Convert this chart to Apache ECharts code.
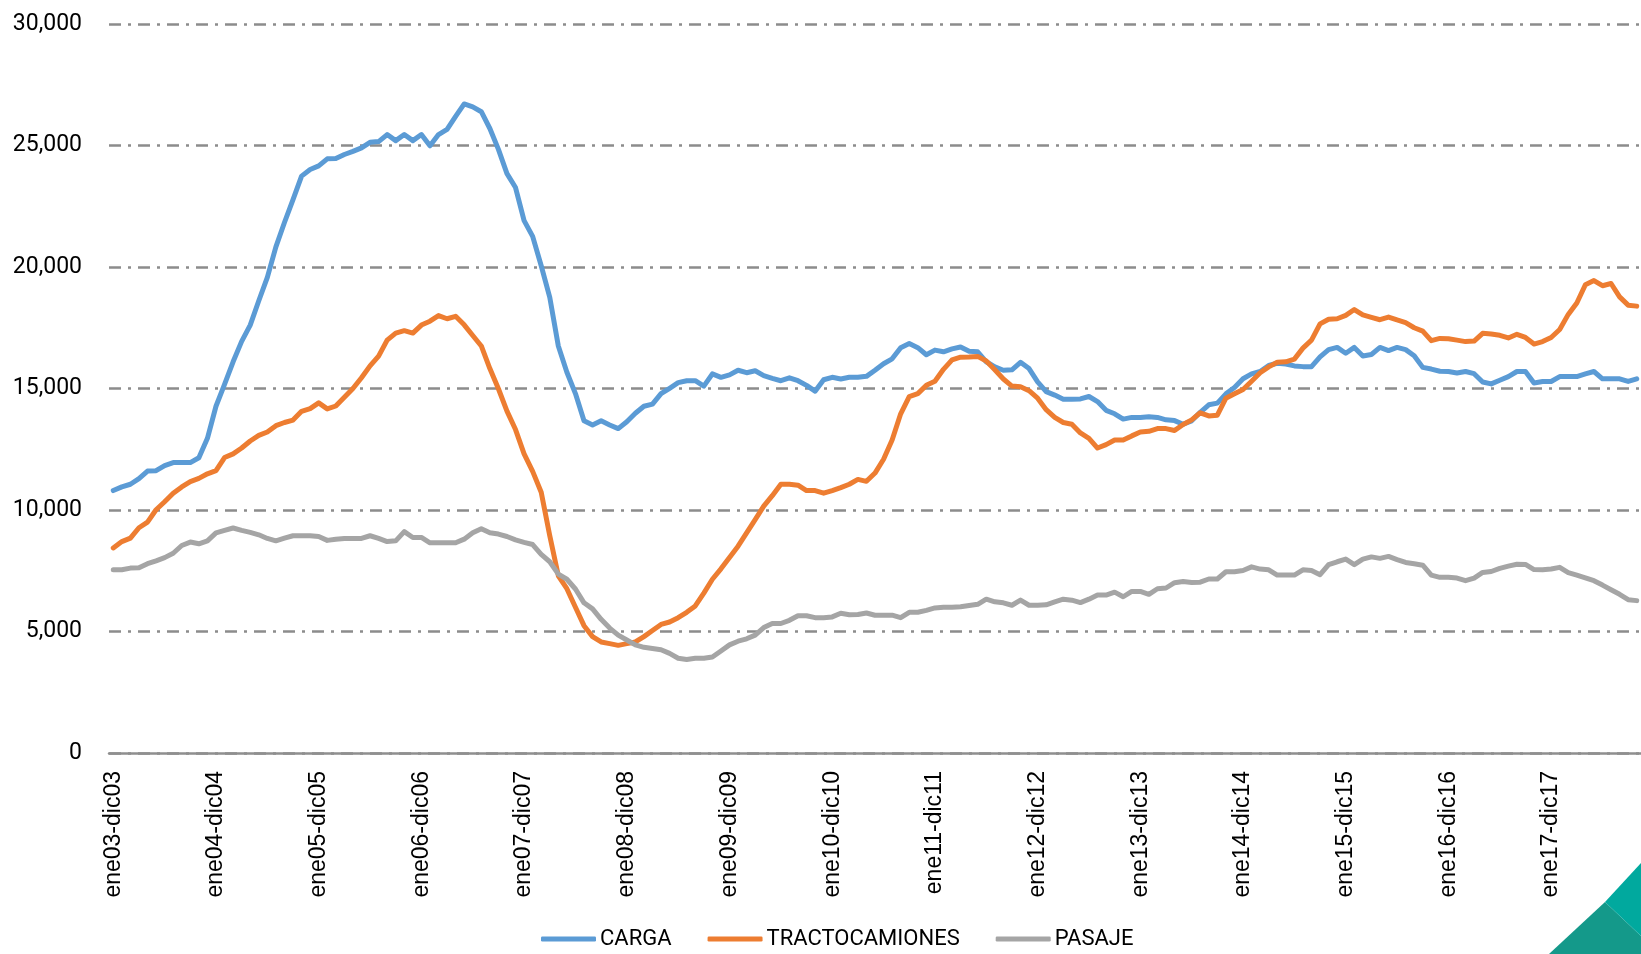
<!DOCTYPE html>
<html>
<head>
<meta charset="utf-8">
<script src="https://cdn.jsdelivr.net/npm/echarts@6/dist/echarts.min.js"></script>
<style>
  html, body { margin: 0; padding: 0; background: #fff; }
  #chart { width: 1641px; height: 954px; }
</style>
</head>
<body>
<div id="chart"></div>
<script>
// periodos moviles de 12 meses: ene03-dic03, feb03-ene04, ...
const meses = ['ene', 'feb', 'mar', 'abr', 'may', 'jun', 'jul', 'ago', 'sep', 'oct', 'nov', 'dic']
const anioInicial = 3
const numPeriodos = 179

const carga = [
  10800, 10950, 11060, 11290, 11600, 11620, 11830, 11950, 11950, 11950,
  12150, 12950, 14270, 15170, 16100, 16940, 17610, 18610, 19570, 20830,
  21830, 22770, 23740, 24010, 24160, 24450, 24460, 24630, 24760, 24900,
  25130, 25160, 25450, 25200, 25450, 25200, 25450, 24990, 25450, 25660,
  26200, 26710, 26590, 26390, 25700, 24840, 23840, 23270, 21910, 21260,
  20050, 18750, 16750, 15670, 14790, 13670, 13500, 13670, 13500, 13350,
  13630, 13980, 14270, 14360, 14790, 15010, 15240, 15320, 15320, 15100,
  15600, 15460, 15560, 15750, 15650, 15730, 15530, 15420, 15320, 15440,
  15320, 15130, 14890, 15360, 15460, 15390, 15460, 15460, 15500, 15750,
  16020, 16220, 16680, 16850, 16680, 16390, 16580, 16510, 16630, 16710,
  16530, 16510, 16100, 15890, 15750, 15770, 16080, 15820, 15270, 14870,
  14730, 14560, 14560, 14570, 14670, 14460, 14100, 13960, 13740, 13810,
  13810, 13840, 13810, 13710, 13680, 13530, 13670, 14020, 14330, 14400,
  14780, 15040, 15400, 15600, 15700, 15950, 16040, 16010, 15930, 15900,
  15900, 16300, 16600, 16690, 16450, 16690, 16340, 16400, 16690, 16560,
  16690, 16600, 16350, 15870, 15800, 15710, 15700, 15640, 15700, 15610,
  15270, 15190, 15340, 15490, 15700, 15700, 15230, 15290, 15290, 15490,
  15490, 15490, 15600, 15700, 15400, 15400, 15400, 15290, 15400
]

const tractocamiones = [
  8440, 8700, 8840, 9270, 9500, 10010, 10340, 10690, 10950, 11170,
  11300, 11490, 11620, 12160, 12310, 12550, 12840, 13070, 13210, 13470,
  13600, 13700, 14060, 14170, 14410, 14160, 14280, 14640, 15000, 15440,
  15930, 16330, 16990, 17280, 17380, 17280, 17610, 17770, 18000, 17870,
  17970, 17620, 17180, 16750, 15820, 14990, 14070, 13310, 12310, 11590,
  10730, 8940, 7290, 6760, 6000, 5240, 4790, 4570, 4500, 4430,
  4500, 4570, 4790, 5040, 5290, 5390, 5570, 5790, 6050, 6580,
  7150, 7580, 8050, 8510, 9060, 9600, 10160, 10590, 11060, 11060,
  11020, 10800, 10800, 10690, 10800, 10920, 11060, 11260, 11180, 11520,
  12090, 12880, 13960, 14670, 14790, 15130, 15300, 15790, 16180, 16290,
  16300, 16320, 16130, 15770, 15390, 15100, 15070, 14910, 14600, 14130,
  13810, 13600, 13530, 13170, 12950, 12550, 12690, 12880, 12880, 13050,
  13210, 13240, 13350, 13350, 13270, 13520, 13710, 14000, 13870, 13900,
  14600, 14780, 14960, 15300, 15650, 15890, 16080, 16100, 16210, 16660,
  16990, 17660, 17850, 17870, 18010, 18250, 18030, 17930, 17830, 17940,
  17820, 17710, 17500, 17360, 16970, 17060, 17050, 16990, 16930, 16950,
  17270, 17240, 17190, 17080, 17230, 17100, 16830, 16930, 17100, 17430,
  18050, 18520, 19270, 19440, 19230, 19320, 18770, 18430, 18390
]

const pasaje = [
  7540, 7540, 7610, 7620, 7790, 7910, 8040, 8220, 8540, 8680,
  8610, 8730, 9060, 9160, 9260, 9160, 9080, 8980, 8830, 8730,
  8840, 8940, 8940, 8940, 8910, 8750, 8800, 8830, 8830, 8830,
  8940, 8830, 8700, 8730, 9110, 8870, 8870, 8650, 8650, 8650,
  8650, 8800, 9060, 9230, 9060, 9010, 8910, 8770, 8670, 8580,
  8170, 7870, 7360, 7150, 6750, 6180, 5930, 5500, 5140, 4850,
  4650, 4450, 4350, 4300, 4250, 4100, 3900, 3850, 3900, 3900,
  3950, 4200, 4450, 4600, 4700, 4850, 5160, 5330, 5330, 5460,
  5650, 5650, 5570, 5570, 5600, 5750, 5690, 5700, 5760, 5670,
  5670, 5670, 5570, 5790, 5790, 5870, 5970, 6000, 6000, 6020,
  6070, 6120, 6330, 6220, 6180, 6080, 6290, 6080, 6080, 6100,
  6220, 6330, 6290, 6190, 6330, 6500, 6500, 6620, 6430, 6650,
  6650, 6530, 6760, 6790, 7010, 7060, 7020, 7030, 7160, 7160,
  7460, 7460, 7510, 7660, 7570, 7540, 7320, 7320, 7320, 7540,
  7510, 7340, 7750, 7870, 7980, 7750, 7980, 8070, 8010, 8090,
  7960, 7840, 7790, 7730, 7320, 7230, 7230, 7200, 7090, 7200,
  7430, 7470, 7600, 7690, 7770, 7760, 7550, 7540, 7570, 7640,
  7420, 7320, 7210, 7090, 6910, 6720, 6530, 6310, 6270
]

const yTicks = { min: 0, max: 30000, interval: 5000 }

function dosDigitos (n) {
  return (n < 10 ? '0' : '') + n
}

let categorias = []
for (let i = 0; i < numPeriodos; i++) {
  let fin = i + 11
  categorias.push(
    meses[i % 12] + dosDigitos(anioInicial + Math.floor(i / 12)) + '-' +
    meses[fin % 12] + dosDigitos(anioInicial + Math.floor(fin / 12))
  )
}

function serie (nombre, datos, color) {
  return {
    name: nombre,
    type: 'line',
    data: datos,
    symbol: 'none',
    color: color,
    lineStyle: { width: 5, color: color, cap: 'round', join: 'round' }
  }
}

let myChart = echarts.init(document.getElementById('chart'))
let option = {
  backgroundColor: '#ffffff',
  animation: false,
  grid: { left: 109, right: -7, top: 24, bottom: 201 },
  xAxis: {
    type: 'category',
    data: categorias,
    boundaryGap: true,
    axisLine: { lineStyle: { color: '#8f8f8f', width: 2.5 } },
    axisTick: { show: false },
    axisLabel: {
      interval: 11,
      rotate: 90,
      margin: 18,
      color: '#000',
      fontFamily: 'Liberation Sans',
      fontSize: 23
    }
  },
  yAxis: {
    type: 'value',
    min: yTicks.min,
    max: yTicks.max,
    interval: yTicks.interval,
    axisLine: { show: false },
    axisTick: { show: false },
    axisLabel: {
      margin: 27,
      color: '#000',
      fontFamily: 'Roboto',
      fontSize: 23,
      formatter: function (v) { return v.toLocaleString('en-US') }
    },
    splitLine: {
      lineStyle: { color: '#8c8c8c', width: 2.5, type: [12, 7, 3, 7] }
    }
  },
  legend: {
    left: 541,
    top: 928,
    padding: 0,
    icon: 'roundRect',
    itemWidth: 55,
    itemHeight: 5,
    itemGap: 36,
    textStyle: { color: '#000', fontFamily: 'Roboto', fontSize: 22, padding: [0, 0, 0, -1] },
    data: ['CARGA', 'TRACTOCAMIONES', 'PASAJE']
  },
  series: [
    serie('CARGA', carga, '#5b9bd5'),
    serie('TRACTOCAMIONES', tractocamiones, '#ed7d31'),
    serie('PASAJE', pasaje, '#a5a5a5')
  ],
  graphic: [
    {
      type: 'polygon',
      z: 100,
      shape: { points: [[1549, 954], [1605, 902], [1641, 936], [1641, 954]] },
      style: { fill: '#14998a' }
    },
    {
      type: 'polygon',
      z: 100,
      shape: { points: [[1605, 902], [1641, 863], [1641, 936]] },
      style: { fill: '#01a99e' }
    }
  ]
}
myChart.setOption(option)
</script>
</body>
</html>
